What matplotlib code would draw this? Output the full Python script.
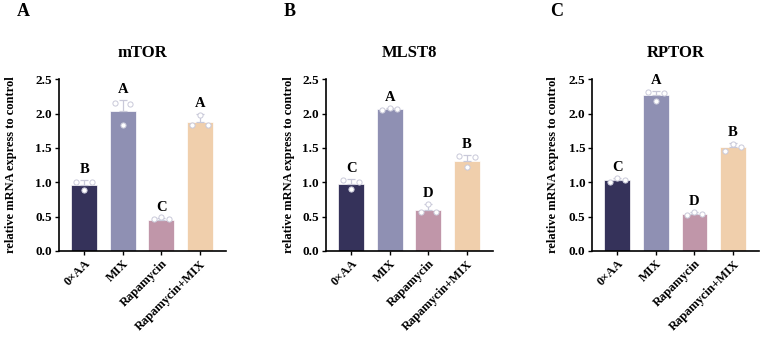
import numpy as np
import matplotlib
matplotlib.use("Agg")
import matplotlib.pyplot as plt

plt.rcParams['font.family'] = ['Liberation Serif', 'DejaVu Serif']
plt.rcParams['font.weight'] = 'bold'

groupes = ["0×AA", "MIX", "Rapamycin", "Rapamycin+MIX"]
couleurs = ["#35325a", "#8f90b3", "#c096a9", "#f0cfac"]

# mTOR
mtor_moy = [0.96, 2.03, 0.45, 1.88]
mtor_sd = [0.07, 0.17, 0.03, 0.11]
mtor_pts = [[1.00, 0.89, 1.00], [2.16, 1.83, 2.14], [0.46, 0.49, 0.46], [1.83, 1.98, 1.84]]
mtor_lettres = ["B", "A", "C", "A"]

# MLST8
mlst8_moy = [0.97, 2.06, 0.60, 1.31]
mlst8_sd = [0.07, 0.02, 0.08, 0.08]
mlst8_pts = [[1.03, 0.90, 1.00], [2.05, 2.08, 2.07], [0.57, 0.68, 0.57], [1.38, 1.22, 1.37]]
mlst8_lettres = ["C", "A", "D", "B"]

# RPTOR
rptor_moy = [1.03, 2.27, 0.54, 1.51]
rptor_sd = [0.03, 0.06, 0.03, 0.06]
rptor_pts = [[1.00, 1.06, 1.03], [2.32, 2.19, 2.30], [0.52, 0.57, 0.54], [1.45, 1.56, 1.51]]
rptor_lettres = ["C", "A", "D", "B"]

# lettre, titre, données, position gauche, écart du label y
panneaux = [
    ("A", "mTOR", mtor_moy, mtor_sd, mtor_pts, mtor_lettres, 0.077, 13),
    ("B", "MLST8", mlst8_moy, mlst8_sd, mlst8_pts, mlst8_lettres, 0.425, 5),
    ("C", "RPTOR", rptor_moy, rptor_sd, rptor_pts, rptor_lettres, 0.772, 7),
]

fig = plt.figure(figsize=(7.67, 3.40), dpi=100)

for lettre, titre, moy, sd, pts, lettres, gauche, lpad in panneaux:
    ax = fig.add_axes([gauche, 0.262, 0.218, 0.505])
    x = np.arange(len(groupes))
    ax.bar(x, moy, width=0.67, color=couleurs, edgecolor="white", linewidth=0.5, zorder=2)
    ax.errorbar(x, moy, yerr=[np.zeros(len(sd)), sd], fmt="none", ecolor="#c9c9d9",
                elinewidth=0.9, capsize=3, capthick=0.9, zorder=3)
    decal = [-0.2, 0.0, 0.2]
    for i in range(len(groupes)):
        ax.scatter(x[i] + np.array(decal), pts[i], s=14, facecolor="white",
                   edgecolor="#c9c9d9", linewidth=0.7, zorder=4)
        ax.text(x[i], moy[i] + sd[i] + 0.06, lettres[i], ha="center", va="bottom",
                fontsize=10.5, fontweight="bold")
    ax.set_xlim(-0.65, 3.68)
    ax.set_ylim(0, 2.5)
    ax.set_yticks([0.0, 0.5, 1.0, 1.5, 2.0, 2.5])
    ax.set_yticklabels(["0.0", "0.5", "1.0", "1.5", "2.0", "2.5"], fontsize=9.5, fontweight="bold")
    ax.set_xticks(x)
    ax.set_xticklabels(groupes, rotation=45, ha="right", rotation_mode="anchor",
                       fontsize=9, fontweight="bold")
    ax.tick_params(axis="both", direction="out", length=3, width=1, pad=2)
    for cote in ["top", "right"]:
        ax.spines[cote].set_visible(False)
    for cote in ["left", "bottom"]:
        ax.spines[cote].set_linewidth(1.2)
    ax.set_ylabel("relative mRNA express to control", fontsize=9, fontweight="bold", labelpad=lpad)
    ax.set_title(titre, fontsize=12, fontweight="bold", pad=16)
    fig.text(gauche - 0.055, 0.965, lettre, fontsize=13, fontweight="bold", va="center")

fig.savefig("out.png", dpi=100)
